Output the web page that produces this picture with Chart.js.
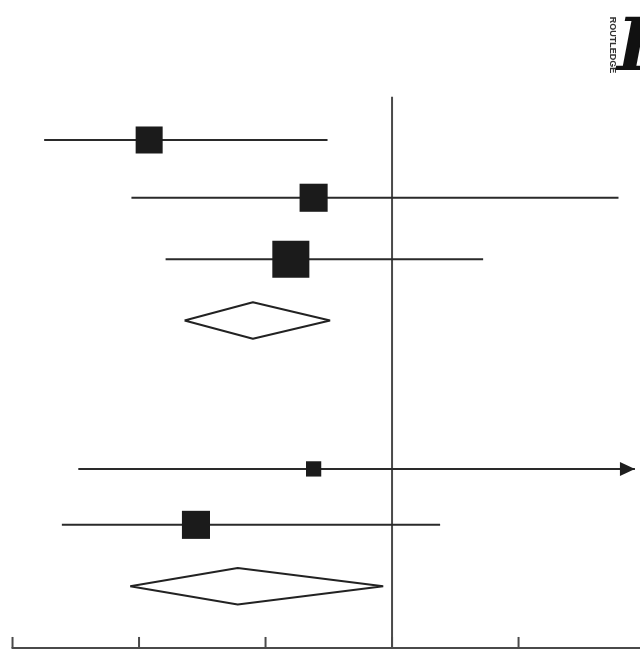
<!DOCTYPE html>
<html>
<head>
<meta charset="utf-8">
<style>
  html, body { margin: 0; padding: 0; background: #fff; }
  canvas { display: block; }
</style>
<script src="https://cdn.jsdelivr.net/npm/chart.js@4.4.1/dist/chart.umd.min.js"></script>
</head>
<body>
<canvas id="forest" width="640" height="651"></canvas>
<script>
// Study estimates and confidence limits (effect units, 0 = no effect)
const studyEst = [-1.92, -0.62, -0.80, -0.62, -1.55];
const studyLo = [-2.75, -2.06, -1.79, -2.48, -2.61];
const studyHi = [-0.51, 1.79, 0.72, 1.92, 0.38];
const studyWeight = [25, 27, 47, 8, 27];
const studyRow = [1, 1.95, 2.96, 6.41, 7.33];
const studyTruncated = [false, false, false, true, false];

// Pooled estimates (diamonds)
const pooledEst = [-1.10, -1.22];
const pooledLo = [-1.64, -2.07];
const pooledHi = [-0.49, -0.07];
const pooledRow = [3.97, 8.34];

const xTicks = [-3, -2, -1, 0, 1];

const DIAMOND_HALF = 0.3;
const ROW_TOP = 0.29;
const ROW_AXIS = 9.355;

// Vertical no-effect line, bottom axis and ticks
const axisPlugin = {
    id: 'forestAxis',
    beforeDatasetsDraw(chart) {
        const { ctx, scales: { x, y }, chartArea } = chart;
        ctx.save();
        ctx.strokeStyle = '#4a4a4a';
        ctx.lineWidth = 2;

        const x0 = x.getPixelForValue(0);
        ctx.beginPath();
        ctx.moveTo(x0, y.getPixelForValue(ROW_TOP));
        ctx.lineTo(x0, y.getPixelForValue(ROW_AXIS));
        ctx.stroke();

        const yAxis = y.getPixelForValue(ROW_AXIS);
        ctx.beginPath();
        ctx.moveTo(x.getPixelForValue(xTicks[0]) - 1, yAxis);
        ctx.lineTo(chartArea.right, yAxis);
        ctx.stroke();

        xTicks.forEach(t => {
            const px = x.getPixelForValue(t);
            ctx.beginPath();
            ctx.moveTo(px, yAxis);
            ctx.lineTo(px, yAxis - 11);
            ctx.stroke();
        });
        ctx.restore();
    },
    afterDatasetsDraw(chart) {
        const { ctx, scales: { x, y } } = chart;
        ctx.save();
        ctx.fillStyle = '#1e1e1e';
        studyTruncated.forEach((flag, i) => {
            if (!flag) return;
            const tip = x.getPixelForValue(studyHi[i]);
            const py = y.getPixelForValue(studyRow[i]);
            ctx.beginPath();
            ctx.moveTo(tip, py);
            ctx.lineTo(tip - 15, py - 7);
            ctx.lineTo(tip - 15, py + 7);
            ctx.closePath();
            ctx.fill();
        });
        ctx.restore();
    },
    afterDraw(chart) {
        // publisher mark, top right
        const { ctx } = chart;
        ctx.save();
        ctx.fillStyle = '#333';
        ctx.font = 'bold 9px "Liberation Sans", sans-serif';
        ctx.translate(612, 45);
        ctx.rotate(Math.PI / 2);
        ctx.textAlign = 'center';
        ctx.textBaseline = 'middle';
        ctx.fillText('ROUTLEDGE', 0, 0);
        ctx.restore();

        ctx.save();
        ctx.fillStyle = '#111';
        ctx.font = 'italic bold 72px "DejaVu Serif", serif';
        ctx.textBaseline = 'alphabetic';
        ctx.fillText('R', 617, 70);
        ctx.restore();
    }
};

const ciSets = studyEst.map((_, i) => ({
    data: [{ x: studyLo[i], y: studyRow[i] }, { x: studyHi[i], y: studyRow[i] }],
    showLine: true,
    borderColor: '#2a2a2a',
    borderWidth: 2,
    pointRadius: 0,
    order: 3
}));

const squareSet = {
    data: studyEst.map((v, i) => ({ x: v, y: studyRow[i] })),
    pointStyle: 'rect',
    pointRadius: studyWeight.map(w => 3.82 * Math.sqrt(w)),
    backgroundColor: '#1b1b1b',
    borderWidth: 0,
    order: 1
};

const diamondSets = pooledEst.map((v, i) => ({
    data: [
        { x: pooledLo[i], y: pooledRow[i] },
        { x: v, y: pooledRow[i] - DIAMOND_HALF },
        { x: pooledHi[i], y: pooledRow[i] },
        { x: v, y: pooledRow[i] + DIAMOND_HALF },
        { x: pooledLo[i], y: pooledRow[i] }
    ],
    showLine: true,
    borderColor: '#222',
    borderWidth: 2,
    borderJoinStyle: 'bevel',
    pointRadius: 0,
    fill: false,
    order: 2
}));

new Chart(document.getElementById('forest'), {
    type: 'scatter',
    data: { datasets: [...ciSets, squareSet, ...diamondSets] },
    options: {
        responsive: false,
        animation: false,
        layout: { padding: 0, autoPadding: false },
        plugins: { legend: { display: false }, tooltip: { enabled: false } },
        scales: {
            x: { type: 'linear', min: -3.099, max: 1.96, display: false },
            y: { type: 'linear', min: -1.3026, max: 9.405, reverse: true, display: false }
        }
    },
    plugins: [axisPlugin]
});
</script>
</body>
</html>
